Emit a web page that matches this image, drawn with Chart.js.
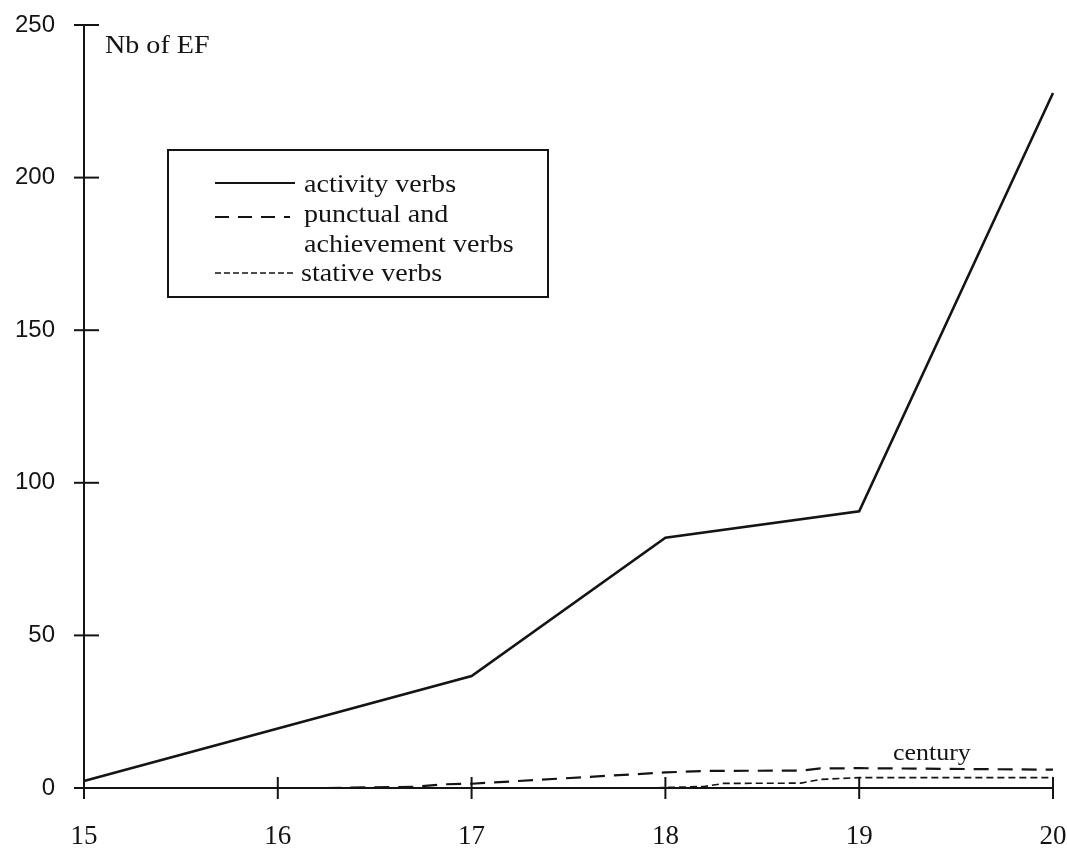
<!DOCTYPE html>
<html>
<head>
<meta charset="utf-8">
<script src="https://cdn.jsdelivr.net/npm/chart.js@4/dist/chart.umd.min.js"></script>
<style>
  html, body { margin: 0; padding: 0; background: white; }
</style>
</head>
<body>
<canvas id="efCanvas" width="1067" height="849"></canvas>
<script>
// centuries on the x axis
const centuries = [15, 16, 17, 18, 19, 20];
const yTicks = [0, 50, 100, 150, 200, 250];

// activity verbs, one value per century
const activityX = [15, 16, 17, 18, 19, 20];
const activityY = [2.3, 19.5, 36.7, 82, 90.7, 227.7];

// punctual and achievement verbs
const punctualX = [16.25, 16.7, 16.85, 17, 18, 18.2, 18.7, 18.8, 19, 20];
const punctualY = [0, 0.4, 1.2, 1.4, 5.1, 5.6, 5.7, 6.4, 6.5, 6.0];

// stative verbs
const stativeX = [17.9, 18.2, 18.3, 18.7, 18.8, 19, 20];
const stativeY = [0, 0.5, 1.5, 1.6, 2.8, 3.4, 3.4];

const legendLines = ['activity verbs', 'punctual and', 'achievement verbs', 'stative verbs'];

const ink = '#141414';
const serif = '"Liberation Serif", "Times New Roman", serif';

// zip two arrays into chart points
const toPoints = (xs, ys) => xs.map((x, i) => ({ x: x, y: ys[i] }));

// stretched serif text, the scan is a bit wider than it is tall
const serifText = (ctx, text, x, y, size) => {
  ctx.save();
  ctx.translate(x, y);
  ctx.scale(1.08, 1);
  ctx.font = size + 'px ' + serif;
  ctx.fillStyle = ink;
  ctx.textBaseline = 'alphabetic';
  ctx.textAlign = 'left';
  ctx.fillText(text, 0, 0);
  ctx.restore();
}

// ticks that cross the axis, plus the extra labels and the boxed legend
const decorPlugin = {
  id: 'decor',
  afterDraw(chart) {
    const ctx = chart.ctx;
    const xs = chart.scales.x;
    const ys = chart.scales.y;
    const area = chart.chartArea;

    ctx.save();
    ctx.strokeStyle = ink;
    ctx.lineWidth = 2;
    yTicks.forEach(v => {
      const py = ys.getPixelForValue(v);
      ctx.beginPath();
      ctx.moveTo(area.left - 10, py);
      ctx.lineTo(v === 0 ? area.left : area.left + 15, py);
      ctx.stroke();
    });
    centuries.forEach(c => {
      const px = xs.getPixelForValue(c);
      ctx.beginPath();
      ctx.moveTo(px, area.bottom - (c === 15 ? 0 : 11));
      ctx.lineTo(px, area.bottom + 11);
      ctx.stroke();
    });
    ctx.restore();

    serifText(ctx, 'Nb of EF', 105, 53, 26);
    serifText(ctx, 'century', 893, 760, 24);

    // legend box
    ctx.save();
    ctx.strokeStyle = ink;
    ctx.lineWidth = 2;
    ctx.strokeRect(168, 150, 380, 147);

    const samples = [
      { y: 183, dash: [], w: 2 },
      { y: 217, dash: [14, 9], w: 2 },
      null,
      { y: 273, dash: [6, 3], w: 1.5 }
    ];
    const textY = [192, 222, 252, 281];
    samples.forEach((s, i) => {
      if (s) {
        ctx.beginPath();
        ctx.setLineDash(s.dash);
        ctx.lineWidth = s.w;
        ctx.moveTo(215, s.y);
        ctx.lineTo(i === 1 ? 290 : 295, s.y);
        ctx.stroke();
      }
    });
    ctx.setLineDash([]);
    ctx.restore();
    legendLines.forEach((t, i) => {
      serifText(ctx, t, i === 3 ? 301 : 304, textY[i], 26);
    });
  }
};

const data = {
  datasets: [
    {
      label: legendLines[0],
      data: toPoints(activityX, activityY),
      borderColor: ink,
      borderWidth: 2.6,
      pointRadius: 0,
      tension: 0,
      clip: false
    },
    {
      label: 'punctual and achievement verbs',
      data: toPoints(punctualX, punctualY),
      borderColor: ink,
      borderWidth: 2.2,
      borderDash: [15, 9],
      pointRadius: 0,
      tension: 0,
      clip: false
    },
    {
      label: legendLines[3],
      data: toPoints(stativeX, stativeY),
      borderColor: ink,
      borderWidth: 1.6,
      borderDash: [7, 4],
      pointRadius: 0,
      tension: 0,
      clip: false
    }
  ]
};

const options = {
  responsive: false,
  animation: false,
  layout: {
    padding: { top: 25, right: 14, left: 0, bottom: 0 }
  },
  plugins: {
    legend: { display: false },
    tooltip: { enabled: false }
  },
  scales: {
    x: {
      type: 'linear',
      min: 15,
      max: 20,
      afterFit: (scale) => { scale.height = 61; },
      afterBuildTicks: (scale) => { scale.ticks = centuries.map(v => ({ value: v })); },
      // tick marks are drawn by the plugin, tickLength only spaces the labels
      grid: { display: false, drawTicks: true, tickLength: 33 },
      border: { display: true, color: ink, width: 2 },
      ticks: {
        color: ink,
        padding: 0,
        font: { family: serif, size: 27 }
      }
    },
    y: {
      type: 'linear',
      min: 0,
      max: 250,
      afterFit: (scale) => { scale.width = 84; },
      afterBuildTicks: (scale) => { scale.ticks = yTicks.map(v => ({ value: v })); },
      grid: { display: false, drawTicks: true, tickLength: 29 },
      border: { display: true, color: ink, width: 2 },
      ticks: {
        color: ink,
        padding: 0,
        font: { family: '"Liberation Sans", Arial, sans-serif', size: 24 }
      }
    }
  }
};

const config = {
  type: 'line',
  data,
  options: options,
  plugins: [decorPlugin]
};

const efChart = new Chart(document.getElementById('efCanvas'), config);
</script>
</body>
</html>
